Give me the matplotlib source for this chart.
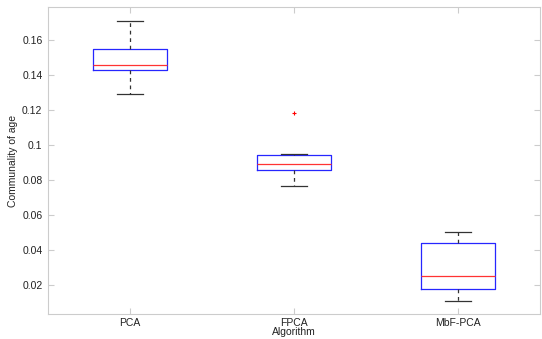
import matplotlib
matplotlib.use("Agg")
import matplotlib.pyplot as plt

plt.rcParams['font.family'] = ['Liberation Sans', 'DejaVu Sans']

categories = ["PCA", "FPCA", "MbF-PCA"]
whisker_low = [0.1295, 0.0766, 0.0113]
q1 = [0.1428, 0.0858, 0.0181]
median = [0.1460, 0.0894, 0.0251]
q3 = [0.1551, 0.0943, 0.0440]
whisker_high = [0.1710, 0.0953, 0.0503]
outliers = [[], [0.1187], []]
yticks = [0.02, 0.04, 0.06, 0.08, 0.1, 0.12, 0.14, 0.16]
ytick_labels = ["0.02", "0.04", "0.06", "0.08", "0.1", "0.12", "0.14", "0.16"]

fig = plt.figure(figsize=(5.42, 3.39), dpi=100)
ax = fig.add_axes([0.0886, 0.073, 0.9077, 0.9063])

stats = []
for i, name in enumerate(categories):
    stats.append(dict(label=name, whislo=whisker_low[i], q1=q1[i], med=median[i],
                      q3=q3[i], whishi=whisker_high[i], fliers=outliers[i]))

ax.bxp(stats, positions=[1, 2, 3], widths=0.45, showfliers=True,
       boxprops=dict(color=(0.15, 0.15, 1.0), linewidth=0.9),
       medianprops=dict(color=(1.0, 0.2, 0.2), linewidth=0.9),
       whiskerprops=dict(color='#333333', linewidth=0.9, linestyle=(0, (3, 3))),
       capprops=dict(color='#333333', linewidth=0.9),
       capwidths=0.16,
       flierprops=dict(marker='+', markeredgecolor='red', markersize=3, linestyle='none',
                       markeredgewidth=0.8))

ax.set_xlim(0.5, 3.5)
ax.set_ylim(0.0035, 0.179)
ax.set_yticks(yticks)
ax.set_yticklabels(ytick_labels)
ax.set_xticks([1, 2, 3])
ax.set_xticklabels(categories)

for s in ax.spines.values():
    s.set_color('#cccccc')
    s.set_linewidth(0.8)
ax.tick_params(axis='both', direction='in', colors='#cccccc', labelcolor='#222222',
               labelsize=7.5, length=4, width=0.8, top=True, right=True)
ax.tick_params(axis='y', pad=4)
ax.tick_params(axis='x', pad=3)

ax.set_ylabel("Communality of age", fontsize=7.5, color='#222222', labelpad=3)
ax.set_xlabel("Algorithm", fontsize=7.5, color='#222222', labelpad=-1)

fig.savefig("out.png", dpi=100, facecolor='white')
